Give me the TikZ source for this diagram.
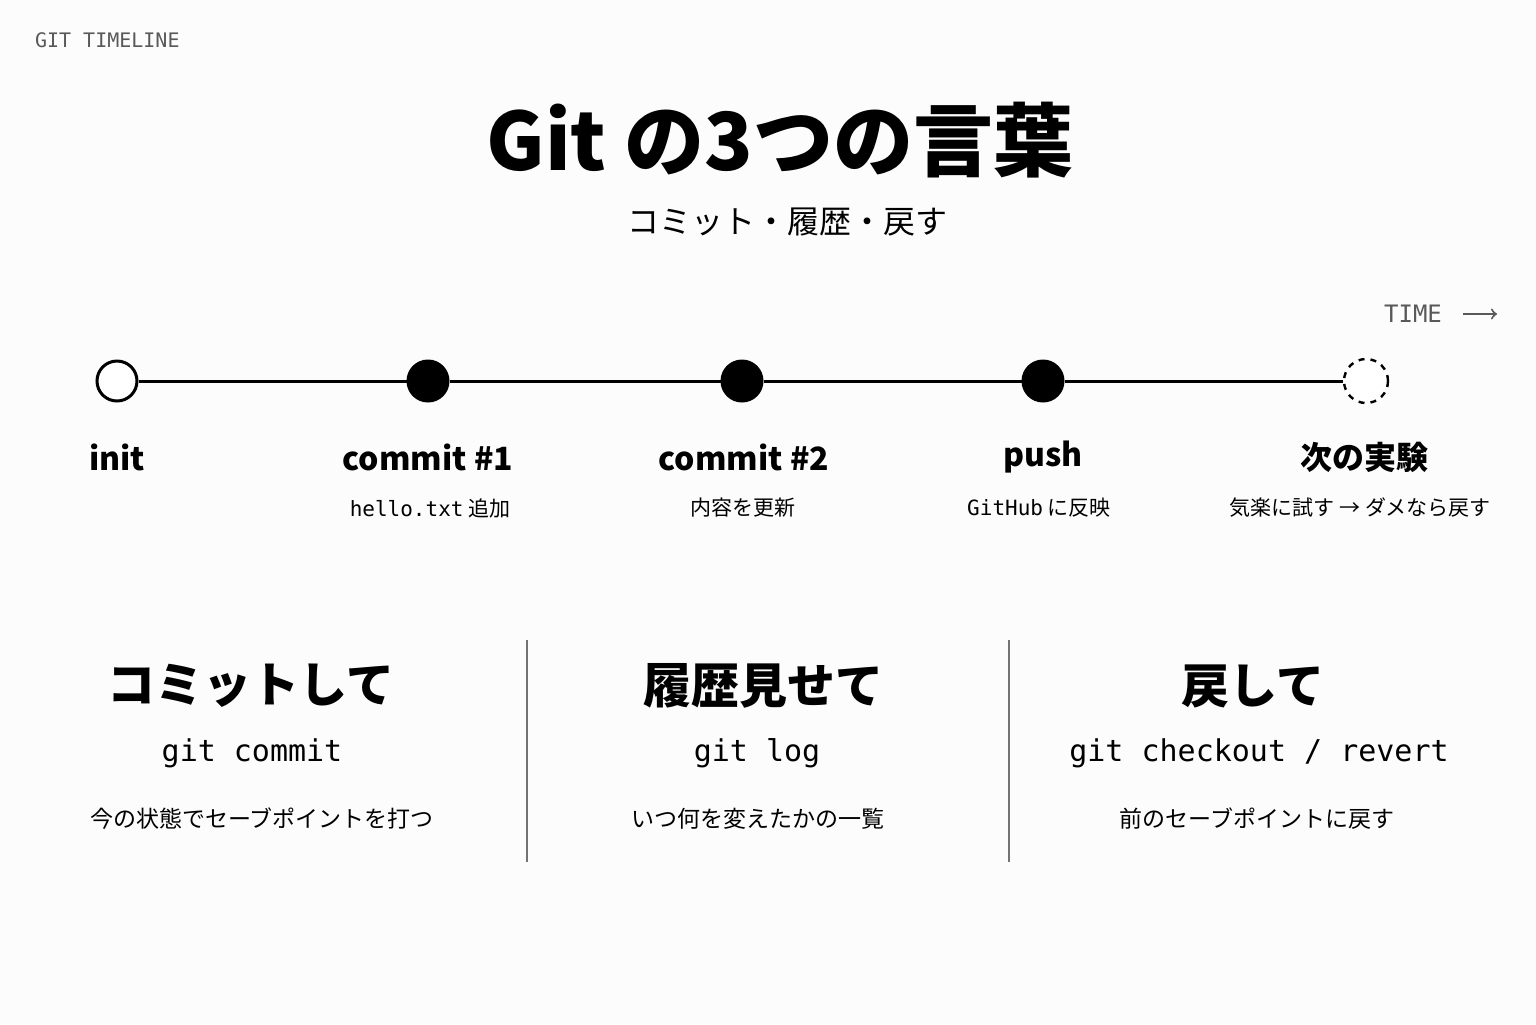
\documentclass[tikz,border=0pt]{standalone}
\usepackage{fontspec}
\setmainfont{Noto Sans CJK JP}
\setmonofont{DejaVu Sans Mono}
\usetikzlibrary{positioning}

\begin{document}
\begin{tikzpicture}[
    x=0.5pt, y=-0.5pt,
    dot/.style={circle, draw, line width=1.5pt, minimum size=20pt, inner sep=0pt},
    step label/.style={font=\fontsize{16}{18}\selectfont\bfseries},
    step note/.style={font=\fontsize{10.5}{12}\selectfont},
    heading/.style={font=\fontsize{24}{28}\selectfont\bfseries},
    command/.style={font=\ttfamily\fontsize{15}{18}\selectfont},
    desc/.style={font=\fontsize{11.5}{14}\selectfont},
    divider/.style={draw=black!55, line width=0.6pt}
]
\useasboundingbox[fill=black!1] (0,0) rectangle (1536,1024);

% Header
\node[anchor=west, text=black!65, font=\ttfamily\fontsize{10}{12}\selectfont] (tag) at (28,40) {GIT TIMELINE};
\node[font=\fontsize{40}{46}\selectfont\bfseries] (title) at (780,140) {Git の3つの言葉};
\node[font=\fontsize{16}{18}\selectfont] (subtitle) at (787,222) {コミット・履歴・戻す};

% Time arrow
\node[text=black!65, font=\ttfamily\fontsize{12}{14}\selectfont] (time) at (1413,314) {TIME};
\coordinate (timeend) at (1497,314);
\draw[->, black!65, line width=1pt] (time.east) ++(14,0) -- (timeend);

% Timeline
\node[dot, fill=white] (init) at (117,381) {};
\node[dot, fill=black] (c1) at (428,381) {};
\node[dot, fill=black] (c2) at (742,381) {};
\node[dot, fill=black] (push) at (1043,381) {};
\node[dot, dashed, line width=1.2pt, minimum size=22pt, fill=white] (next) at (1366,381) {};
\draw[line width=1.5pt] (init) -- (c1) -- (c2) -- (push) -- (next);

\node[step label] (initlabel) at (117,457) {init};
\node[step label] (c1label) at (428,457) {commit \#1};
\node[step label] (c2label) at (744,457) {commit \#2};
\node[step label] (pushlabel) at (1043,457) {push};
\node[step label] (nextlabel) at (1364,457) {次の実験};

\node[step note] (c1note) at (430,508) {{\ttfamily hello.txt} 追加};
\node[step note] (c2note) at (743,508) {内容を更新};
\node[step note] (pushnote) at (1039,508) {{\ttfamily GitHub} に反映};
\node[step note] (nextnote) at (1360,508) {気楽に試す → ダメなら戻す};

% Three words
\draw[divider] (527,640) -- (527,862);
\draw[divider] (1009,640) -- (1009,862);

\node[heading] (commithead) at (251,686) {コミットして};
\node[command] (commitcmd) at (252,753) {git commit};
\node[desc] (commitdesc) at (262,819) {今の状態でセーブポイントを打つ};

\node[heading] (loghead) at (763,686) {履歴見せて};
\node[command] (logcmd) at (757,753) {git log};
\node[desc] (logdesc) at (758,819) {いつ何を変えたかの一覧};

\node[heading] (reverthead) at (1253,686) {戻して};
\node[command] (revertcmd) at (1259,753) {git checkout / revert};
\node[desc] (revertdesc) at (1257,819) {前のセーブポイントに戻す};
\end{tikzpicture}
\end{document}
